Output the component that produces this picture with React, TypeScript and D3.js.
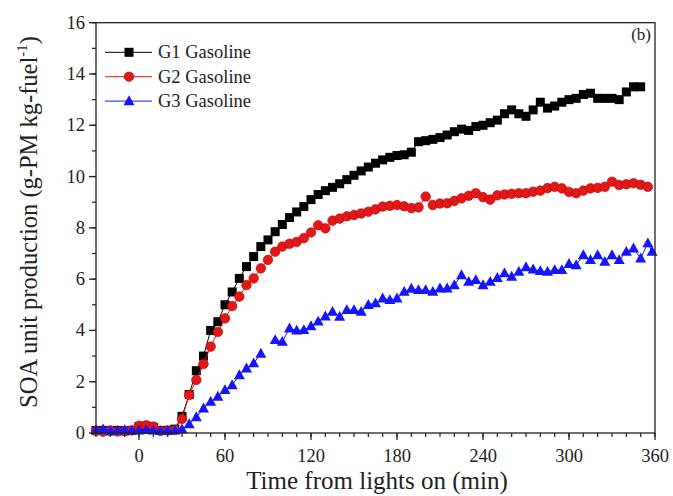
import React from 'react';
import * as d3 from 'd3';

const times = [-30, -25, -20, -15, -10, -5, 0, 5, 10, 15, 20, 25, 30, 35, 40, 45, 50, 55, 60, 65, 70, 75, 80, 85, 90, 95, 100, 105, 110, 115, 120, 125, 130, 135, 140, 145, 150, 155, 160, 165, 170, 175, 180, 185, 190, 195, 200, 205, 210, 215, 220, 225, 230, 235, 240, 245, 250, 255, 260, 265, 270, 275, 280, 285, 290, 295, 300, 305, 310, 315, 320, 325, 330, 335, 340, 345, 350, 355, 358];

const g1: (number | null)[] = [0.1, 0.1, 0.08, 0.1, 0.08, 0.1, 0.25, 0.27, 0.22, 0.1, 0.1, 0.15, 0.65, 1.5, 2.43, 3.0, 4.0, 4.34, 5.0, 5.5, 6.03, 6.49, 6.88, 7.27, 7.53, 7.85, 8.13, 8.4, 8.62, 8.83, 9.1, 9.3, 9.45, 9.58, 9.72, 9.88, 10.05, 10.22, 10.37, 10.52, 10.65, 10.75, 10.82, 10.85, 10.95, 11.36, 11.4, 11.45, 11.52, 11.62, 11.75, 11.85, 11.8, 11.95, 12.0, 12.1, 12.2, 12.45, 12.6, 12.45, 12.35, 12.6, 12.9, 12.67, 12.75, 12.9, 13.0, 13.05, 13.2, 13.25, 13.05, 13.05, 13.05, 13.0, 13.3, 13.5, 13.5, null, null];

const g2: (number | null)[] = [0.08, 0.05, 0.1, 0.06, 0.08, 0.1, 0.28, 0.3, 0.25, 0.08, 0.1, 0.12, 0.55, 1.48, 2.07, 2.69, 3.37, 3.94, 4.47, 4.95, 5.32, 5.77, 6.03, 6.42, 6.75, 7.07, 7.27, 7.38, 7.45, 7.6, 7.82, 8.1, 7.98, 8.28, 8.36, 8.45, 8.5, 8.56, 8.63, 8.72, 8.83, 8.86, 8.89, 8.84, 8.77, 8.8, 9.22, 8.89, 8.95, 8.96, 9.05, 9.15, 9.25, 9.35, 9.2, 9.1, 9.27, 9.3, 9.33, 9.35, 9.35, 9.41, 9.45, 9.55, 9.6, 9.54, 9.4, 9.35, 9.45, 9.54, 9.56, 9.6, 9.8, 9.67, 9.7, 9.74, 9.68, 9.6, null];

const g3: (number | null)[] = [0.12, 0.15, 0.08, 0.1, 0.12, 0.1, 0.1, 0.12, 0.1, 0.08, 0.1, 0.1, 0.15, 0.35, 0.62, 0.96, 1.22, 1.42, 1.68, 1.87, 2.26, 2.52, 2.72, 3.1, null, 3.63, 3.56, 4.08, 4.0, 4.02, 4.17, 4.35, 4.55, 4.73, 4.54, 4.8, 4.8, 4.73, 5.0, 5.06, 5.25, 5.19, 5.25, 5.51, 5.63, 5.58, 5.58, 5.51, 5.64, 5.64, 5.77, 6.16, 5.9, 5.97, 5.77, 5.9, 6.05, 6.23, 6.1, 6.29, 6.47, 6.38, 6.32, 6.29, 6.36, 6.36, 6.6, 6.55, 6.94, 6.75, 6.94, 6.68, 6.94, 6.75, 7.07, 7.2, 6.81, 7.4, 7.07];

const seriesNames = ['G1 Gasoline', 'G2 Gasoline', 'G3 Gasoline'];
const xTicks = [0, 60, 120, 180, 240, 300, 360];
const yTicks = [0, 2, 4, 6, 8, 10, 12, 14, 16];

const FONT = '"Liberation Serif", "Times New Roman", serif';
const BLACK = '#000000';
const RED = '#e01818';
const BLUE = '#1414ff';

function Marker({ kind, cx, cy }: { kind: string; cx: number; cy: number }) {
  if (kind === 'square') {
    return <rect x={cx - 4.5} y={cy - 4.5} width={9} height={9} fill={BLACK} />;
  }
  if (kind === 'circle') {
    return <circle cx={cx} cy={cy} r={4.8} fill={RED} stroke="#c00000" strokeWidth={0.6} />;
  }
  const s = 5.5;
  return (
    <path
      d={`M${cx},${cy - s * 1.05} L${cx + s},${cy + s * 0.75} L${cx - s},${cy + s * 0.75} Z`}
      fill={BLUE}
    />
  );
}

export default function App() {
  const W = 673;
  const H = 496;
  const x = d3.scaleLinear().domain([-30, 360]).range([96, 655]);
  const y = d3.scaleLinear().domain([0, 16]).range([433, 22.7]);

  const xMinor = d3.range(-30, 361, 10);
  const yMinor = d3.range(0, 16.01, 1);

  const series = [
    { name: seriesNames[0], vals: g1, color: BLACK, kind: 'square' },
    { name: seriesNames[1], vals: g2, color: RED, kind: 'circle' },
    { name: seriesNames[2], vals: g3, color: BLUE, kind: 'triangle' },
  ];

  const line = d3
    .line<[number, number | null]>()
    .defined((d) => d[1] !== null)
    .x((d) => x(d[0]))
    .y((d) => y(d[1] as number));

  const [x0, x1] = x.range();
  const [y0, y1] = y.range();

  return (
    <svg
      width={W}
      height={H}
      style={{ position: 'absolute', left: 0, top: 0, background: '#fff' }}
      fontFamily={FONT}
    >
      <rect x={0} y={0} width={W} height={H} fill="#fff" />
      {series.map((s) => {
        const pts: [number, number | null][] = times.map((t, i) => [t, s.vals[i]]);
        return (
          <g key={s.name}>
            <path d={line(pts) || ''} fill="none" stroke={s.color} strokeWidth={1} />
            {pts
              .filter((p) => p[1] !== null)
              .map((p, i) => (
                <Marker key={i} kind={s.kind} cx={x(p[0])} cy={y(p[1] as number)} />
              ))}
          </g>
        );
      })}

      <rect x={x0} y={y1} width={x1 - x0} height={y0 - y1} fill="none" stroke="#222" strokeWidth={1.3} />

      {xMinor.map((t) => (
        <line key={'xm' + t} x1={x(t)} x2={x(t)} y1={y0} y2={y0 + 4} stroke="#222" strokeWidth={1.2} />
      ))}
      {xTicks.map((t) => (
        <g key={'xt' + t}>
          <line x1={x(t)} x2={x(t)} y1={y0} y2={y0 + 7} stroke="#222" strokeWidth={1.3} />
          <text x={x(t)} y={462} textAnchor="middle" fontSize={18.5} fill="#222">
            {t}
          </text>
        </g>
      ))}

      {yMinor.map((v) => (
        <line key={'ym' + v} x1={x0 - 4} x2={x0} y1={y(v)} y2={y(v)} stroke="#222" strokeWidth={1.2} />
      ))}
      {yTicks.map((v) => (
        <g key={'yt' + v}>
          <line x1={x0 - 7} x2={x0} y1={y(v)} y2={y(v)} stroke="#222" strokeWidth={1.3} />
          <text x={85} y={y(v) + 6} textAnchor="end" fontSize={18.5} fill="#222">
            {v}
          </text>
        </g>
      ))}

      <text x={377} y={489} textAnchor="middle" fontSize={25} fill="#222">
        Time from lights on (min)
      </text>
      <text transform={`translate(37,222) rotate(-90)`} textAnchor="middle" fontSize={24.5} fill="#222">
        SOA unit production (g-PM kg-fuel
        <tspan fontSize={15} dy={-10}>-1</tspan>
        <tspan dy={10}>)</tspan>
      </text>

      <text x={651} y={40} textAnchor="end" fontSize={17} fill="#222">
        (b)
      </text>

      {series.map((s, i) => {
        const cy = 52.3 + i * 24.4;
        return (
          <g key={'lg' + i}>
            <line x1={105} x2={152} y1={cy} y2={cy} stroke={s.color} strokeWidth={1} />
            <Marker kind={s.kind} cx={129} cy={cy} />
            <text x={158} y={cy + 6} fontSize={18.5} fill="#222">
              {s.name}
            </text>
          </g>
        );
      })}
    </svg>
  );
}
